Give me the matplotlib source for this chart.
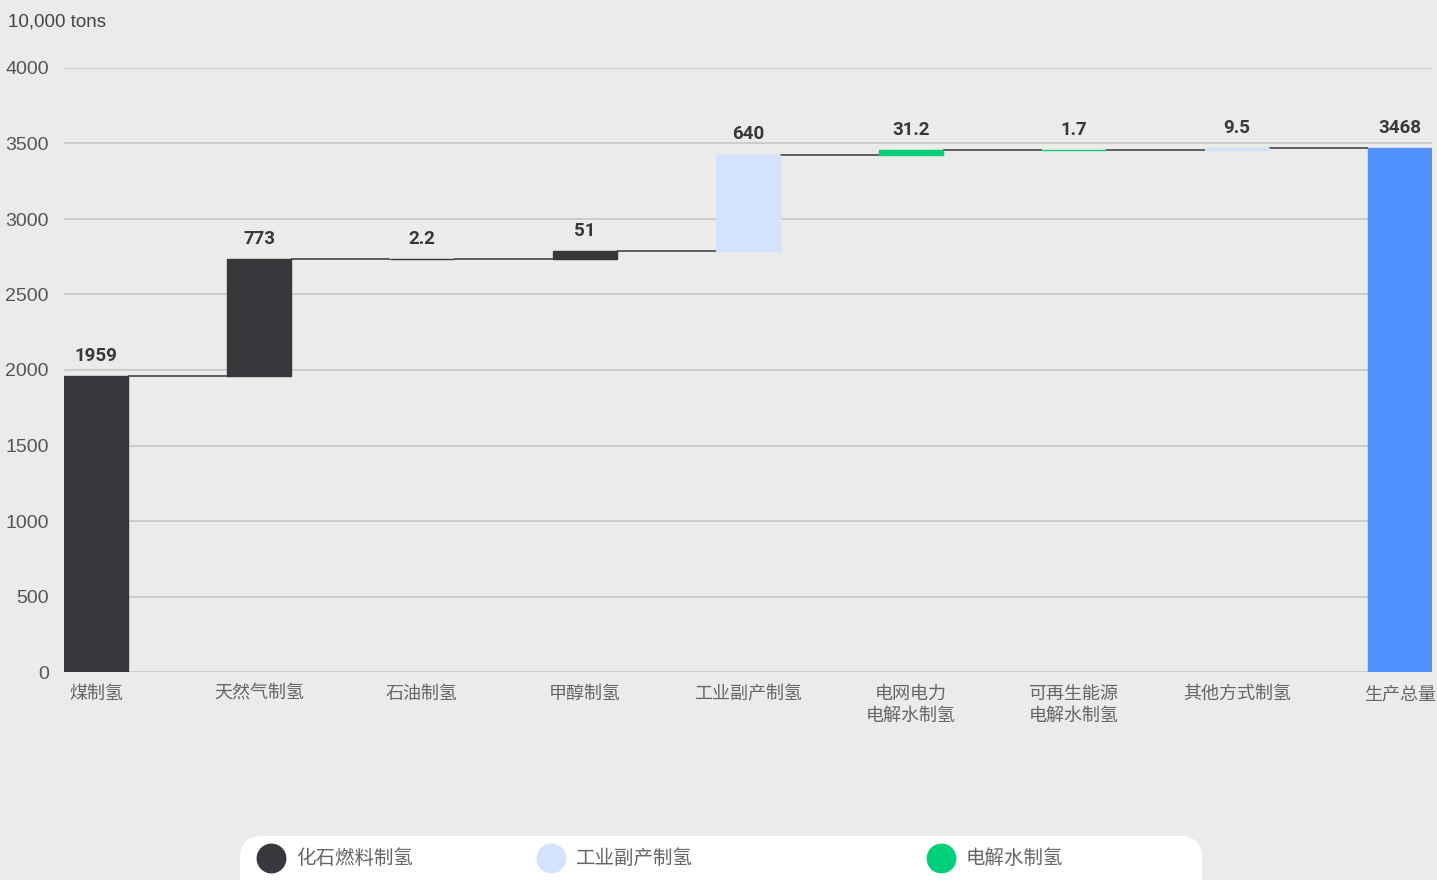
import numpy as np
import matplotlib.pyplot as plt
from matplotlib.patches import FancyBboxPatch

plt.rcParams['font.family'] = ['Liberation Sans', 'Noto Sans CJK SC', 'DejaVu Sans']

# 数据
categories = ['煤制氢', '天然气制氢', '石油制氢', '甲醇制氢', '工业副产制氢',
              '电网电力\n电解水制氢', '可再生能源\n电解水制氢', '其他方式制氢', '生产总量']
values = [1959, 773, 2.2, 51, 640, 31.2, 1.7, 9.5, 3468]
value_labels = ['1959', '773', '2.2', '51', '640', '31.2', '1.7', '9.5', '3468']
groups = [0, 0, 0, 0, 1, 2, 2, 1, 3]   # 颜色分组
colors = ['#36383b', '#d3e3fd', '#00cf7a', '#5292ff']
legend_names = ['化石燃料制氢', '工业副产制氢', '电解水制氢']
yticks = [0, 500, 1000, 1500, 2000, 2500, 3000, 3500, 4000]
unit = '10,000 tons'

bg = '#ebebe9'
W, H = 1437, 880
fig = plt.figure(figsize=(W / 100, H / 100), dpi=100, facecolor=bg)
ax = fig.add_axes([64 / W, (H - 672) / H, (1432 - 64) / W, (672 - 68) / H])
ax.set_facecolor(bg)

n = len(values)
x = np.arange(n)
bw = 0.39
bottoms = []
tops = []
run = 0
for i, v in enumerate(values):
    if i == n - 1:
        b, t = 0, v
    else:
        b, t = run, run + v
        run += v
    bottoms.append(b)
    tops.append(t)

# 连接线
for i in range(n - 1):
    ax.plot([x[i] + bw / 2, x[i + 1] - bw / 2], [tops[i], tops[i]],
            color='#36383b', lw=1.1, zorder=2, solid_capstyle='butt')

bar_cols = [colors[g] for g in groups]
ax.bar(x, np.array(tops) - np.array(bottoms), bottom=bottoms, width=bw,
       color=bar_cols, edgecolor=bar_cols, linewidth=1.0, zorder=3)

for i in range(n):
    ax.text(x[i], tops[i] + 75, value_labels[i], ha='center', va='bottom',
            fontsize=13.5, fontweight='bold', color='#383838',
            family=['Roboto', 'Liberation Sans'])

ax.set_xlim(-32 / 163, (1432 - 96) / 163)
ax.set_ylim(0, 4000)
ax.set_yticks(yticks)
ax.set_yticklabels([str(t) for t in yticks], fontsize=14, color='#555555')
ax.yaxis.grid(True, color='#c6c6c6', lw=1.2, zorder=0)
ax.set_axisbelow(True)
ax.tick_params(axis='y', length=0, pad=11)
ax.set_xticks(x)
ax.set_xticklabels(categories, fontsize=13, color='#666666', linespacing=1.4)
ax.tick_params(axis='x', length=0, pad=10)
for s in ax.spines.values():
    s.set_visible(False)

fig.text(8 / W, 1 - 22 / H, unit, fontsize=13.5, color='#444444', va='center', ha='left')

# 图例
lax = fig.add_axes([0, 0, 1, 1])
lax.set_xlim(0, W)
lax.set_ylim(H, 0)
lax.axis('off')
lax.add_patch(FancyBboxPatch((240, 836), 962, 80, boxstyle='round,pad=0,rounding_size=22',
                             facecolor='white', edgecolor='none'))
leg_x = [271, 551, 941]
for lx, name, c in zip(leg_x, legend_names, colors):
    lax.scatter([lx], [858], s=420, color=c, zorder=3)
    lax.text(lx + 25, 859, name, fontsize=14, color='#666666', va='center', ha='left')

fig.savefig('out.png', dpi=100, facecolor=bg)
